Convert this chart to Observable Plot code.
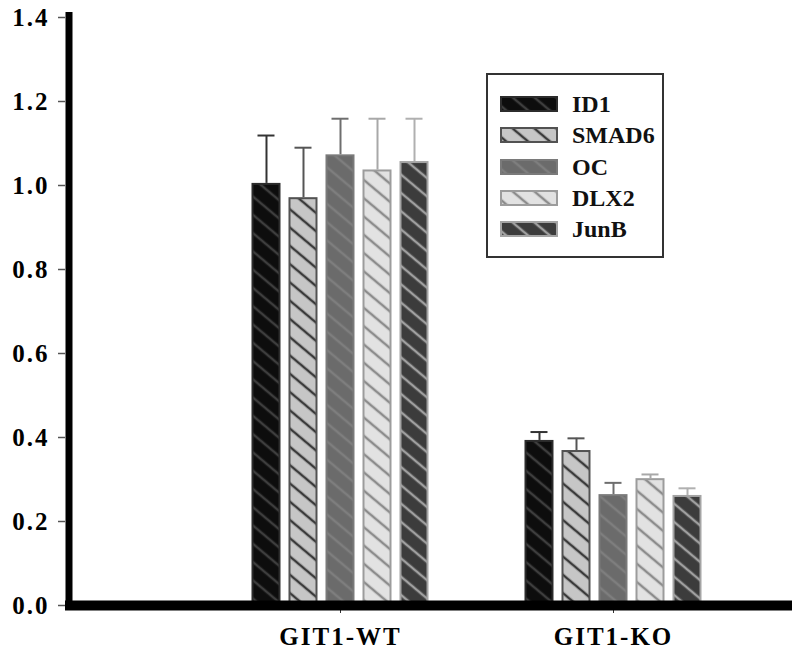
<!DOCTYPE html>
<html><head><meta charset="utf-8">
<script src="https://cdn.jsdelivr.net/npm/d3@7"></script>
<script src="https://cdn.jsdelivr.net/npm/@observablehq/plot@0.6"></script>
<style>
html,body{margin:0;padding:0;background:#fff;overflow:hidden;}
#chart{position:relative;width:800px;height:651px;overflow:hidden;}
#chart > svg{position:absolute;left:0;top:0;}
#legend{position:absolute;left:486px;top:73px;width:178px;height:185px;box-sizing:border-box;border:2px solid #333;background:#fff;font-family:'Liberation Serif','Times New Roman',serif;font-weight:bold;font-size:24px;color:#111;}
.row{position:absolute;left:12px;height:16px;display:flex;align-items:center;white-space:nowrap;}
.row svg{display:block;}
.row span{margin-left:14px;line-height:16px;}
</style></head><body>
<div id="chart"></div>
<script>
// ---- data ----
const groups = ["GIT1-WT", "GIT1-KO"];
const genes = ["ID1", "SMAD6", "OC", "DLX2", "JunB"];
const wtMeans = [1.005, 0.971, 1.073, 1.037, 1.057];
const wtErrors = [0.114, 0.119, 0.086, 0.122, 0.102];
const koMeans = [0.393, 0.369, 0.264, 0.302, 0.262];
const koErrors = [0.020, 0.029, 0.028, 0.010, 0.017];
const yTicks = [0, 0.2, 0.4, 0.6, 0.8, 1.0, 1.2, 1.4];

// ---- styles ----
const fillColors = ["#0d0d0d", "#c6c6c6", "#6b6b6b", "#e2e2e2", "#3c3c3c"];
const hatchColors = ["#3e3e3e", "#3a3a3a", "#7e7e7e", "#8c8c8c", "#a0a0a0"];
const edgeColors = ["#2c2c2c", "#525252", "#7a7a7a", "#9c9c9c", "#a4a4a4"];
const errColors = ["#333333", "#555555", "#6e6e6e", "#a8a8a8", "#b0b0b0"];

const rows = groups.flatMap((group, gi) => genes.map((gene, i) => ({
  group, gene,
  value: gi === 0 ? wtMeans[i] : koMeans[i],
  err: gi === 0 ? wtErrors[i] : koErrors[i]
})));

const font = "'Liberation Serif', 'Times New Roman', serif";
const W = 800, H = 651;
const M = {marginTop: 17, marginRight: 8, marginBottom: 46, marginLeft: 65};
const textStyle = {fontFamily: font, fontWeight: "bold", fontSize: "25px", letterSpacing: "2px", color: "#000"};

const barMarks = genes.flatMap((gene, i) => {
  const d = rows.filter(r => r.gene === gene);
  return [
    Plot.ruleX(d, {fx: "group", x: "gene", y1: "value", y2: r => r.value + r.err, stroke: errColors[i], strokeWidth: 2}),
    Plot.tickY(d, {fx: "group", x: "gene", y: r => r.value + r.err, stroke: errColors[i], strokeWidth: 2, inset: 6}),
    Plot.barY(d, {fx: "group", x: "gene", y1: 0, y2: "value", fill: `url(#hatch-${i})`, stroke: edgeColors[i], strokeWidth: 2, inset: 1})
  ];
});

const plotA = Plot.plot({
  width: W, height: H, ...M,
  facet: {marginTop: 0, marginBottom: 0, marginLeft: 0, marginRight: 0},
  style: {background: "#fff", ...textStyle},
  fx: {domain: groups, range: [203.5, 749.5], padding: 0, round: false, label: null},
  x: {domain: genes, paddingInner: 8 / 37, paddingOuter: 1.297, round: false, axis: null},
  y: {domain: [0, 1.4], axis: null},
  marks: [
    ...barMarks,
    Plot.axisFx({anchor: "bottom", tickSize: 8, tickPadding: 14, label: null, fontSize: 25, stroke: "#333"})
  ]
});

const plotB = Plot.plot({
  width: W, height: H, ...M,
  style: {background: "transparent", ...textStyle},
  x: {domain: [0, 1], axis: null},
  y: {domain: [0, 1.4]},
  marks: [
    Plot.axisY({ticks: yTicks, tickFormat: d3.format(".1f"), tickSize: 7, tickPadding: 9, stroke: "#555", strokeWidth: 1.5, label: null, fontSize: 25, fill: "#000"}),
    Plot.ruleY([0], {stroke: "#000", strokeWidth: 10}),
    Plot.ruleX([0], {stroke: "#000", strokeWidth: 7, dx: 3.5, insetTop: -5, insetBottom: -5})
  ]
});

// hatch patterns
const defs = d3.select(plotA).insert("defs", ":first-child");
genes.forEach((g, i) => {
  const p = defs.append("pattern").attr("id", `hatch-${i}`)
    .attr("patternUnits", "userSpaceOnUse").attr("width", 14).attr("height", 14)
    .attr("patternTransform", "rotate(40)");
  p.append("rect").attr("width", 14).attr("height", 14).attr("fill", fillColors[i]);
  p.append("line").attr("x1", 0).attr("y1", 7).attr("x2", 14).attr("y2", 7)
    .attr("stroke", hatchColors[i]).attr("stroke-width", 2.5);
});

const chart = document.getElementById("chart");
chart.appendChild(plotA);
chart.appendChild(plotB);

// legend
const legend = document.createElement("div");
legend.id = "legend";
genes.forEach((g, i) => {
  const row = document.createElement("div");
  row.className = "row";
  row.style.top = (21 + i * 31.25) + "px";
  const sw = d3.create("svg").attr("width", 58).attr("height", 16);
  sw.append("rect").attr("x", 1).attr("y", 1).attr("width", 56).attr("height", 14)
    .attr("fill", `url(#hatch-${i})`).attr("stroke", edgeColors[i]).attr("stroke-width", 2);
  row.appendChild(sw.node());
  const t = document.createElement("span");
  t.textContent = g;
  row.appendChild(t);
  legend.appendChild(row);
});
chart.appendChild(legend);
</script>
</body></html>
